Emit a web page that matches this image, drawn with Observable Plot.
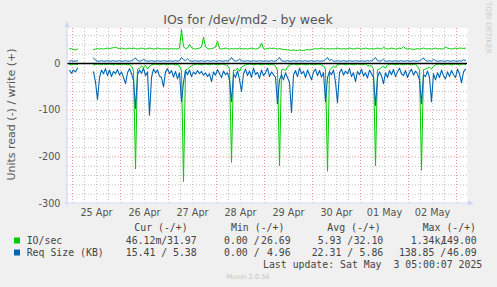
<!DOCTYPE html>
<html><head><meta charset="utf-8">
<script src="https://cdn.jsdelivr.net/npm/d3@7"></script>
<script src="https://cdn.jsdelivr.net/npm/@observablehq/plot@0.6"></script>
<style>
html,body{margin:0;padding:0;background:#f0f0f0;}
#chart{width:497px;height:287px;position:relative;overflow:hidden;}
svg{display:block}
</style></head><body><div id="chart"></div>
<script>
// ---- data (hourly samples, first at 2025-04-24 22:30 UTC) ----
const firstSample = "2025-04-24T22:30:00Z";
const viewStart = "2025-04-24T21:30:00Z";
const viewEnd = "2025-05-03T05:30:00Z";
const _ = null;

// IO/sec write (+)
const ioWrite = [31,32,30,29,31, _,_,_,_,_,_,_,
  30,31,32,31,32,31,32,33,32,
  33,34,35,33,32,33,32,31,32,33,
  32,33,32,31,32,33,32,31,32,33,
  32,31,32,33,32,31,32,31,32,31,
  32,31,32,31,33,73,36,32,33,41,
  34,32,31,32,33,35,56,36,32,31,
  32,33,35,48,32,31,32,33,32,31,
  32,31,32,31,33,32,31,32,31,32,
  33,32,31,32,34,44,32,31,32,33,
  32,33,32,31,32,31,30,30,29,29,
  28,29,28,28,29,28,28,29,30,29,
  30,31,32,31,32,33,32,31,32,31,
  32,31,32,33,32,31,32,31,32,33,
  32,31,32,33,32,31,32,33,32,31,
  32,31,32,33,32,31,35,32,31,32,
  33,32,31,32,33,32,36,32,31,32,
  31,30,31,32,31,32,33,32,31,32,
  31,32,33,31,32,31,32,35,33,32,
  31,32,33,32,33,33,32,33];

// IO/sec read (-)
const ioRead = [2,3,1,2,2, _,_,_,_,_,_,_,
  3,2,1,2,3,1,2,2,1,
  2,3,1,2,2,3,1,2,3,2,
  6,15,226,12,10,6,8,4,12,6,
  3,2,1,2,3,2,1,2,3,2,
  1,2,3,2,5,15,253,14,12,8,
  5,3,2,1,2,3,2,1,2,3,
  2,1,2,3,2,1,2,3,4,12,
  212,14,15,10,17,8,5,3,2,1,
  2,3,2,1,2,3,2,1,2,3,
  2,1,6,14,219,14,12,15,8,3,
  2,1,2,3,2,1,2,3,2,1,
  2,3,2,1,2,3,5,12,231,14,
  10,6,8,3,2,1,2,3,2,1,
  2,3,2,1,2,3,2,1,5,5,
  5,12,219,14,12,8,6,10,3,2,
  1,2,3,2,1,2,3,2,1,2,
  3,2,1,6,14,229,13,12,10,8,
  12,6,3,2,1,2,3,2,1,2,
  3,2,1,2,3,2,1,2];

// Req Size (KB) write (+)
const reqWrite = [5,6,5,5,6, _,_,_,_,_,_,_,
  12,7,5,5,6,5,5,6,5,
  5,6,5,5,6,5,5,6,5,5,
  6,8,12,6,5,6,9,6,5,5,
  6,5,5,6,5,5,6,5,5,6,
  5,5,6,5,6,13,8,6,10,6,
  5,5,6,5,5,6,5,5,6,5,
  5,6,5,5,6,5,5,6,5,7,
  13,7,5,6,9,6,5,5,6,5,
  5,6,5,5,6,5,5,6,5,5,
  6,5,5,8,13,6,5,5,6,5,
  5,6,5,5,6,5,5,6,5,5,
  6,5,5,6,5,5,6,8,13,6,
  9,5,5,6,5,5,6,5,5,6,
  5,5,6,5,5,6,5,5,6,5,
  6,8,13,6,5,6,9,5,5,6,
  5,5,6,5,5,6,5,5,6,5,
  5,6,5,5,6,8,12,6,5,6,
  5,9,6,5,5,6,5,5,6,5,
  5,6,5,5,6,5,8,6];

// Req Size (KB) read (-)
const reqRead = [15,21,14,18,10, _,_,_,_,_,_,_,
  18,40,77,30,14,22,11,26,14,
  28,17,22,13,25,18,30,43,20,11,
  22,35,97,24,14,21,10,26,18,111,
  30,12,20,14,27,30,50,18,11,22,
  15,29,17,33,20,82,40,15,24,14,
  28,18,23,15,22,17,25,20,28,22,
  39,18,25,13,22,30,16,24,20,35,
  82,22,30,16,34,60,22,12,26,16,
  30,10,24,19,32,14,26,20,10,28,
  18,24,30,86,35,24,35,20,30,40,
  105,25,15,28,10,22,17,30,14,24,
  35,18,12,26,15,29,20,82,30,18,
  24,14,40,84,20,12,25,16,22,11,
  28,20,39,17,24,12,27,20,31,14,
  22,30,90,30,18,26,43,20,30,15,
  24,13,28,18,10,22,26,15,30,19,
  12,25,16,22,35,86,24,28,16,30,
  82,22,35,20,30,14,26,33,18,28,
  15,24,30,12,22,41,18,12];

const dayLabels = ["25 Apr","26 Apr","27 Apr","28 Apr","29 Apr","30 Apr","01 May","02 May"];
const dayDates = ["2025-04-25","2025-04-26","2025-04-27","2025-04-28","2025-04-29","2025-04-30","2025-05-01","2025-05-02"];
const yTicks = [0,-100,-200,-300];
const yDomain = [-300, 75];

const title = "IOs for /dev/md2 - by week";
const yLabel = "Units read (-) / write (+)";
const sideText = "RRDTOOL / TOBI OETIKER";
const legendHeaders = ["Cur (-/+)","Min (-/+)","Avg (-/+)","Max (-/+)"];
const legendNames = ["IO/sec","Req Size (KB)"];
const legendCur = [["46.12m/","31.97"],["15.41 /","5.38"]];
const legendMin = [["0.00 /","26.69"],["0.00 /","4.96"]];
const legendAvg = [["5.93 /","32.10"],["22.31 /","5.86"]];
const legendMax = [["1.34k/","149.00"],["138.85 /","46.09"]];
const lastUpdate = "Last update: Sat May  3 05:00:07 2025";
const footer = "Munin 2.0.56";

// ---- build ----
const GREEN = "#00cc00", BLUE = "#0066b3";
const t0 = Date.parse(firstSample);
const toRows = (vals, sign) => vals.map((v, i) => ({t: new Date(t0 + i * 3600e3), v: v == null ? NaN : sign * v}));
const xStart = new Date(viewStart), xEnd = new Date(viewEnd);
const sixH = d3.utcHour.every(6).range(xStart, xEnd);
const minorX = sixH.filter(d => d.getUTCHours() !== 0);
const majorX = sixH.filter(d => d.getUTCHours() === 0);
const gridY = d3.range(-280, yDomain[1], 20);
const minorY = gridY.filter(v => v % 100 !== 0);
const majorY = gridY.filter(v => v % 100 === 0 && v !== 0);
const tickDates = dayDates.map(s => new Date(s + "T12:00:00Z"));
const labelOf = new Map(tickDates.map((d, i) => [+d, dayLabels[i]]));

const plot = Plot.plot({
  width: 497, height: 287,
  marginLeft: 67, marginRight: 30, marginTop: 28, marginBottom: 84,
  style: {background: "transparent", fontFamily: "DejaVu Sans", color: "#555", overflow: "visible"},
  x: {type: "utc", domain: [xStart, xEnd]},
  y: {domain: yDomain},
  marks: [
    Plot.frame({fill: "white", stroke: "none"}),
    Plot.ruleX(minorX, {stroke: "#c4c4c4", strokeDasharray: "1,2"}),
    Plot.ruleX(majorX, {stroke: "#f09898", strokeDasharray: "1,2"}),
    Plot.ruleY(minorY, {stroke: "#c4c4c4", strokeDasharray: "1,2"}),
    Plot.ruleY(majorY, {stroke: "#f09898", strokeDasharray: "1,2"}),
    Plot.line(toRows(ioRead, -1), {x: "t", y: "v", stroke: GREEN, strokeWidth: 1}),
    Plot.line(toRows(ioWrite, 1), {x: "t", y: "v", stroke: GREEN, strokeWidth: 1}),
    Plot.line(toRows(reqRead, -1), {x: "t", y: "v", stroke: BLUE, strokeWidth: 1.1}),
    Plot.line(toRows(reqWrite, 1), {x: "t", y: "v", stroke: BLUE, strokeWidth: 1}),
    Plot.ruleY([0], {stroke: "black", strokeWidth: 1.6}),
    Plot.axisY({ticks: yTicks, tickSize: 0, tickPadding: 7, fontSize: 9.7, label: null, tickFormat: d => String(d)}),
    Plot.axisX({ticks: tickDates, tickSize: 0, tickPadding: 5.5, fontSize: 9.7, label: null, tickFormat: d => labelOf.get(+d)})
  ]
});
document.getElementById("chart").appendChild(plot);

const svg = d3.select(plot);
const xs = plot.scale("x"), ys = plot.scale("y");
const x0 = xs.apply(xStart), x1 = xs.apply(xEnd);
const yB = ys.apply(yDomain[0]), yT = ys.apply(yDomain[1]);
const AX = "#cfd6f8";
// axes + arrows
svg.append("line").attr("x1", x0).attr("x2", x0).attr("y1", yB + 3).attr("y2", yT - 4).attr("stroke", AX);
svg.append("line").attr("x1", x0 - 3).attr("x2", x1 + 4).attr("y1", yB).attr("y2", yB).attr("stroke", AX);
svg.append("path").attr("d", `M${x0 - 2.5},${yT - 1}L${x0 + 2.5},${yT - 1}L${x0},${yT - 7}Z`).attr("fill", AX);
svg.append("path").attr("d", `M${x1 + 1},${yB - 2.5}L${x1 + 1},${yB + 2.5}L${x1 + 7},${yB}Z`).attr("fill", AX);

const T = (x, y, s, o = {}) => svg.append("text").attr("x", x).attr("y", y).text(s)
  .attr("font-family", o.ff || "DejaVu Sans").attr("font-size", o.fs || 10)
  .attr("fill", o.fill || "#555").attr("text-anchor", o.anchor || "start")
  .style("white-space", "pre");

T(248, 24, title, {fs: 12.5, anchor: "middle", fill: "#555"});
svg.append("text").attr("transform", "translate(14.5,114.5) rotate(-90)")
  .attr("text-anchor", "middle").attr("font-family", "DejaVu Sans").attr("font-size", 11)
  .attr("fill", "#555").text(yLabel);
svg.append("text").attr("transform", "translate(485.5,6) rotate(90)")
  .attr("font-family", "DejaVu Sans").style("font-size", "7.5px").attr("fill", "#cccccc")
  .attr("textLength", 96).attr("lengthAdjust", "spacingAndGlyphs").text(sideText);

// legend
const MONO = {ff: "DejaVu Sans Mono", fs: 9.85, fill: "#444"};
const headerX = [134.3, 231, 327.3, 422.7];
legendHeaders.forEach((h, i) => T(headerX[i], 230.5, h, MONO));
const slashEnd = [167.3, 259.6, 353.2, 446.3];
const colEnd = [196.7, 290.7, 383.3, 476.7];
const colors = [GREEN, BLUE];
const rowsY = [243.5, 255.5];
[legendCur, legendMin, legendAvg, legendMax].forEach((col, c) => {
  col.forEach((pair, r) => {
    T(slashEnd[c], rowsY[r], pair[0], {...MONO, anchor: "end"});
    T(colEnd[c], rowsY[r], pair[1], {...MONO, anchor: "end"});
  });
});
legendNames.forEach((n, r) => {
  svg.append("rect").attr("x", 14).attr("y", rowsY[r] - 6).attr("width", 6).attr("height", 6).attr("fill", colors[r]);
  T(26.7, rowsY[r], n, MONO);
});
T(482.3, 267.5, lastUpdate, {...MONO, anchor: "end"});
T(248, 279, footer, {fs: 6.6, anchor: "middle", fill: "#c4c4c4"});
</script></body></html>
